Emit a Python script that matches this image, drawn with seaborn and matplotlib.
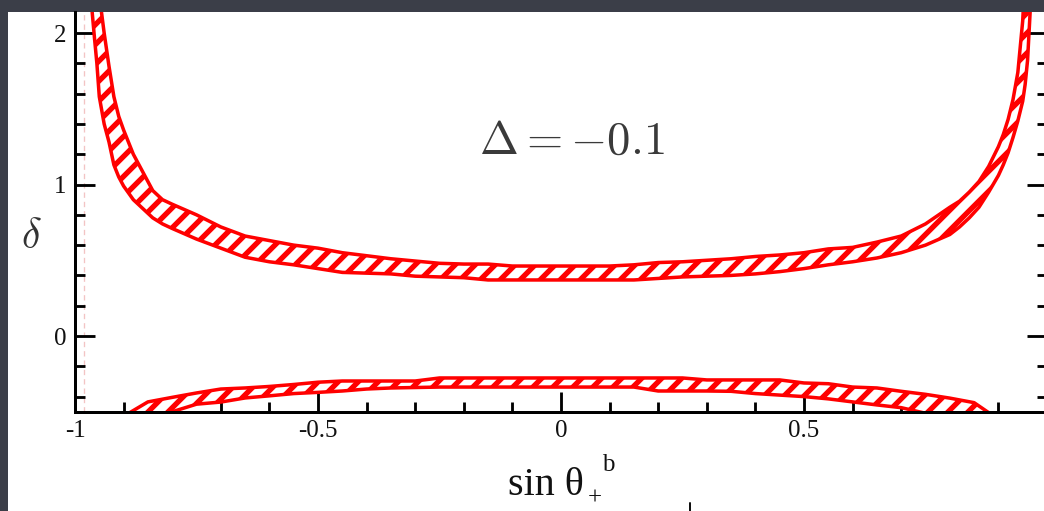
import matplotlib
matplotlib.use("Agg")
import matplotlib.pyplot as plt
from matplotlib.patches import Rectangle
from matplotlib.lines import Line2D
from matplotlib.ticker import FixedLocator, MultipleLocator
import seaborn as sns

# ---- data: allowed band of delta versus sin(theta_+^b) ----
upper_x = [-0.97, -0.965, -0.96, -0.955, -0.95, -0.94, -0.93, -0.92, -0.91, -0.90,
           -0.88, -0.86, -0.84, -0.82, -0.80, -0.75, -0.70, -0.65, -0.60, -0.55,
           -0.50, -0.45, -0.40, -0.35, -0.30, -0.25, -0.20, -0.15, -0.10, -0.05,
           0.00, 0.05, 0.10, 0.15, 0.20, 0.25, 0.30, 0.35, 0.40, 0.45,
           0.50, 0.55, 0.60, 0.65, 0.70, 0.75, 0.80, 0.82, 0.84, 0.86,
           0.88, 0.90, 0.91, 0.92, 0.93, 0.94, 0.95, 0.955, 0.96, 0.965, 0.97]
upper_hi = [3.0, 2.8, 2.6, 2.4, 2.25, 2.0, 1.78, 1.58, 1.45, 1.36,
            1.20, 1.08, 0.96, 0.90, 0.87, 0.80, 0.72, 0.66, 0.63, 0.60,
            0.58, 0.55, 0.53, 0.51, 0.495, 0.48, 0.475, 0.475, 0.462, 0.462,
            0.462, 0.462, 0.462, 0.47, 0.485, 0.49, 0.50, 0.51, 0.525, 0.535,
            0.55, 0.575, 0.585, 0.62, 0.66, 0.74, 0.85, 0.89, 0.95, 1.02,
            1.12, 1.25, 1.33, 1.43, 1.56, 1.74, 2.08, 2.4, 2.7, 3.0, 3.3]
upper_lo = [2.4, 2.15, 1.97, 1.80, 1.58, 1.40, 1.28, 1.13, 1.05, 0.99,
            0.90, 0.84, 0.78, 0.74, 0.71, 0.64, 0.58, 0.52, 0.49, 0.47,
            0.445, 0.42, 0.415, 0.41, 0.395, 0.39, 0.385, 0.37, 0.37, 0.37,
            0.37, 0.37, 0.37, 0.37, 0.38, 0.39, 0.395, 0.40, 0.41, 0.425,
            0.445, 0.47, 0.49, 0.515, 0.55, 0.60, 0.67, 0.72, 0.78, 0.85,
            0.95, 1.06, 1.13, 1.21, 1.31, 1.42, 1.55, 1.66, 1.82, 2.12, 2.45]

lower_x = [-0.90, -0.85, -0.80, -0.75, -0.70, -0.65, -0.60, -0.55, -0.50, -0.45,
           -0.40, -0.35, -0.30, -0.25, -0.20, -0.15, -0.10, -0.05, 0.00, 0.05,
           0.10, 0.15, 0.20, 0.25, 0.30, 0.35, 0.40, 0.45, 0.50, 0.55,
           0.60, 0.65, 0.70, 0.75, 0.80, 0.85, 0.90]
lower_hi = [-0.53, -0.435, -0.405, -0.376, -0.350, -0.343, -0.333, -0.32, -0.305, -0.297,
            -0.297, -0.297, -0.297, -0.277, -0.277, -0.277, -0.277, -0.277, -0.277, -0.277,
            -0.277, -0.277, -0.277, -0.277, -0.29, -0.29, -0.29, -0.29, -0.31, -0.315,
            -0.337, -0.343, -0.365, -0.385, -0.41, -0.44, -0.55]
lower_lo = [-0.80, -0.65, -0.50, -0.45, -0.436, -0.409, -0.395, -0.38, -0.372, -0.363,
            -0.35, -0.343, -0.34, -0.337, -0.337, -0.337, -0.337, -0.337, -0.337, -0.337,
            -0.337, -0.337, -0.363, -0.363, -0.363, -0.365, -0.38, -0.39, -0.40, -0.415,
            -0.435, -0.455, -0.473, -0.51, -0.60, -0.70, -0.80]

x_ticks = [-1, -0.5, 0, 0.5]
x_tick_labels = ["-1", "-0.5", "0", "0.5"]
y_ticks = [0, 1, 2]
y_tick_labels = ["0", "1", "2"]
delta_value = -0.1

# ---- style ----
sns.set_theme(style="white")
plt.rcParams["font.family"] = ["Liberation Serif", "DejaVu Serif"]
plt.rcParams["mathtext.fontset"] = "cm"
plt.rcParams["hatch.linewidth"] = 3.2
plt.rcParams["hatch.color"] = "red"

W, H, DPI = 1044, 511, 120
fig = plt.figure(figsize=(W / DPI, H / DPI), dpi=DPI)
fig.patch.set_facecolor("#3b3e48")

# white slide panel
fig.add_artist(Rectangle((8 / W, 0), 1 - 8 / W, (H - 12) / H,
                         transform=fig.transFigure, facecolor="white",
                         edgecolor="none", zorder=0))

ax_left, ax_right = 75, 1047
ax_bottom, ax_top = 411.75, 12
ax = fig.add_axes([ax_left / W, (H - ax_bottom) / H,
                   (ax_right - ax_left) / W, (ax_bottom - ax_top) / H])
ax.set_facecolor("white")
ax.set_xlim(-1, 1)
ax.set_ylim(-0.5, 2.139)

# faint dashed guide near the left edge
ax.axvline(-0.981, color="#f3c4c4", lw=0.8, ls=(0, (4, 3)), zorder=0.5)

# hatched bands
for xs, lo, hi in [(upper_x, upper_lo, upper_hi), (lower_x, lower_lo, lower_hi)]:
    ax.fill_between(xs, lo, hi, facecolor="white", edgecolor="red",
                    hatch="//", linewidth=0, zorder=1)
    for ys in (lo, hi):
        sns.lineplot(x=xs, y=ys, ax=ax, color="red", linewidth=2.1,
                     estimator=None, sort=False, zorder=1.5)

# axes frame and ticks
for side in ("left", "bottom", "right"):
    ax.spines[side].set_visible(True)
    ax.spines[side].set_color("black")
    ax.spines[side].set_linewidth(1.8)
ax.spines["top"].set_visible(False)

ax.xaxis.set_major_locator(FixedLocator(x_ticks + [1]))
ax.set_xticklabels(x_tick_labels + [""])
ax.xaxis.set_minor_locator(MultipleLocator(0.1))
ax.yaxis.set_major_locator(FixedLocator(y_ticks))
ax.set_yticklabels(y_tick_labels)
ax.yaxis.set_minor_locator(MultipleLocator(0.2))

ax.tick_params(which="both", direction="in", left=True, right=True,
               bottom=True, top=False, labelright=False, color="black")
ax.tick_params(which="major", length=12, width=1.7, labelsize=15,
               labelcolor="#111111", pad=5)
ax.tick_params(which="minor", length=6, width=1.7)

# annotations
ax.text(0.023, 1.28, rf"$\Delta = {delta_value}$", ha="center", va="center",
        fontsize=28, color="#3a3a3a")
fig.text(31 / W, 1 - 238 / H, r"$\delta$", ha="center", va="center",
         fontsize=25, color="#333333")

# axis title: sin theta with super/subscript
fig.text(546 / W, 1 - 495 / H, "sin θ", ha="center", va="baseline",
         fontsize=24, color="#111111")
fig.text(608 / W, 1 - 471 / H, "b", ha="center", va="baseline",
         fontsize=15, color="#111111")
fig.text(595 / W, 1 - 505 / H, "+", ha="center", va="baseline",
         fontsize=15, color="#111111")
fig.add_artist(Line2D([690 / W, 690 / W], [0, 8 / H], transform=fig.transFigure,
                      color="#111111", lw=1.2))

fig.savefig("out.png", dpi=DPI, facecolor=fig.get_facecolor())
